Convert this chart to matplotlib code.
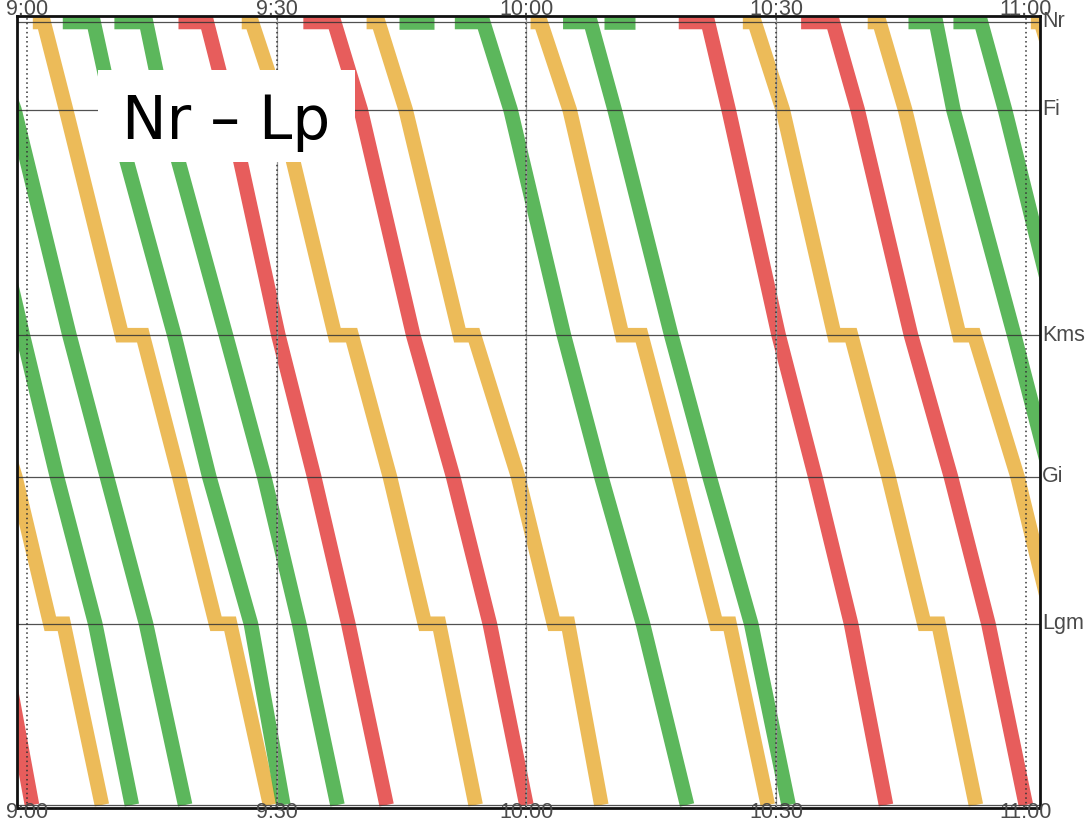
import matplotlib as mpl
import matplotlib.pyplot as plt
from matplotlib.patches import Rectangle

mpl.use("Agg")
mpl.rcParams["font.family"] = ["Liberation Sans", "DejaVu Sans"]

# Stations along the line (top to bottom) and their position in km
stations = ["Nr", "Fi", "Kms", "Gi", "Lgm", "Lp"]
station_km = [0.0, 5.0, 17.8, 25.85, 34.2, 44.5]
right_labels = ["Nr", "Fi", "Kms", "Gi", "Lgm"]

# Time axis: minutes after 9:00
hour_ticks = [0, 30, 60, 90, 120]
hour_labels = ["9:00", "9:30", "10:00", "10:30", "11:00"]

# Local trains (yellow): stop at Kms and Lgm
yellow_stops = ["Nr", "Nr", "Fi", "Kms", "Kms", "Gi", "Lgm", "Lgm", "Lp"]
yellow_times = [
    [-19.3, -18.0, -14.7, -8.3, -6.6, -1.4, 2.8, 4.4, 9.0],
    [0.7, 2.0, 4.7, 11.4, 13.9, 18.3, 22.7, 24.4, 29.2],
    [25.8, 27.0, 30.5, 37.0, 39.0, 43.6, 47.8, 49.5, 53.9],
    [40.8, 42.2, 45.5, 52.0, 53.7, 59.0, 63.3, 65.0, 69.0],
    [60.5, 61.7, 65.2, 71.5, 73.8, 78.3, 82.8, 84.4, 89.0],
    [86.0, 87.4, 90.8, 97.0, 99.0, 103.5, 107.8, 109.5, 114.0],
    [101.0, 102.4, 105.5, 112.0, 113.8, 119.0, 123.3, 125.0, 129.0],
    [120.6, 121.8, 125.0, 131.5, 133.8, 138.3, 142.8, 144.4, 149.0],
]

# Regional trains (green)
green_stops = ["Nr", "Nr", "Fi", "Kms", "Gi", "Lgm", "Lp"]
green_times = [
    [-13.8, -10.3, -6.8, -0.5, 3.6, 8.2, 12.6],
    [-8.6, -5.2, -1.5, 5.1, 9.6, 14.3, 19.0],
    [4.3, 8.0, 10.3, 17.7, 21.9, 26.9, 30.8],
    [10.5, 14.3, 16.5, 23.9, 28.5, 32.7, 37.3],
    [51.4, 54.8, 58.1, 64.5, 69.0, 74.0, 79.3],
    [64.4, 67.7, 70.6, 77.4, 82.0, 87.0, 91.5],
    [105.9, 109.2, 111.3, 118.6, 123.0, 128.0, 132.3],
    [111.3, 114.6, 117.5, 124.2, 128.6, 133.6, 138.0],
]
# green trains only standing at Nr (start, end)
green_idle = [[44.7, 48.9], [69.3, 73.1]]

# Fast trains (red)
red_stops = ["Nr", "Nr", "Fi", "Kms", "Gi", "Lgm", "Lp"]
red_times = [
    [-26.8, -23.1, -19.9, -13.6, -8.8, -3.4, 0.6],
    [18.2, 21.6, 24.3, 30.2, 34.5, 38.6, 43.2],
    [33.2, 36.9, 40.1, 46.4, 51.2, 55.6, 60.0],
    [78.3, 81.8, 84.3, 90.3, 94.7, 99.0, 103.2],
    [93.0, 96.8, 99.8, 106.2, 111.0, 115.5, 120.0],
]

colors = {"yellow": "#e9b03c", "green": "#3fab3f", "red": "#e3403f"}
km = dict(zip(stations, station_km))
LW = 10.5


def draw_trains(ax, stops, times, color):
    ys = [km[s] for s in stops]
    for t in times:
        ax.plot(t, ys, color=color, lw=LW, alpha=0.85,
                solid_capstyle="butt", solid_joinstyle="miter", zorder=2)


fig = plt.figure(figsize=(10.88, 8.25), dpi=100)
ax = fig.add_axes([17 / 1088, 1 - 808 / 825, 1023 / 1088, 792 / 825])

draw_trains(ax, yellow_stops, yellow_times, colors["yellow"])
draw_trains(ax, green_stops, green_times, colors["green"])
draw_trains(ax, red_stops, red_times, colors["red"])
for t0, t1 in green_idle:
    ax.plot([t0, t1], [km["Nr"], km["Nr"]], color=colors["green"], lw=LW,
            alpha=0.85, solid_capstyle="butt", zorder=2)

# grid: stations solid, half hours dotted
for y in station_km:
    ax.axhline(y, color="#333333", lw=0.9, alpha=0.85, zorder=3)
for t in hour_ticks:
    if 0 < t < 120:
        ax.axvline(t, color="#999999", lw=0.9, zorder=3)
    ax.axvline(t, color="#333333", lw=1.1, ls=(0, (1, 2)), zorder=3)

ax.set_xlim(-1.2, 121.7)
ax.set_ylim(44.67, -0.34)
ax.set_xticks([])
ax.set_yticks([])
for sp in ax.spines.values():
    sp.set_linewidth(2)
    sp.set_color("#111111")
    sp.set_zorder(4)

# time labels on the frame, top and bottom
for t, lab in zip(hour_ticks, hour_labels):
    for yy, dy in [(1, 4.5), (0, -3.5)]:
        ax.annotate(lab, xy=(t, yy), xycoords=("data", "axes fraction"),
                    xytext=(0, dy), textcoords="offset points",
                    ha="center", va="center", fontsize=15.5, color="#4a4a4a",
                    annotation_clip=False, zorder=5)

# station names on the right
for name in right_labels:
    ax.annotate(name, xy=(1, km[name]), xycoords=("axes fraction", "data"),
                xytext=(1.5, 0), textcoords="offset points",
                ha="left", va="center", fontsize=15.5, color="#4a4a4a",
                annotation_clip=False)

# title box
fig.patches.append(Rectangle((98 / 1088, 1 - 162 / 825), 257 / 1088, 92 / 825,
                             transform=fig.transFigure, facecolor="white",
                             edgecolor="none", zorder=6))
fig.text(226.5 / 1088, 1 - 139 / 825, "Nr – Lp", ha="center", va="baseline",
         fontsize=43, family="DejaVu Sans", color="black", zorder=7)

fig.savefig("out.png", dpi=100)
